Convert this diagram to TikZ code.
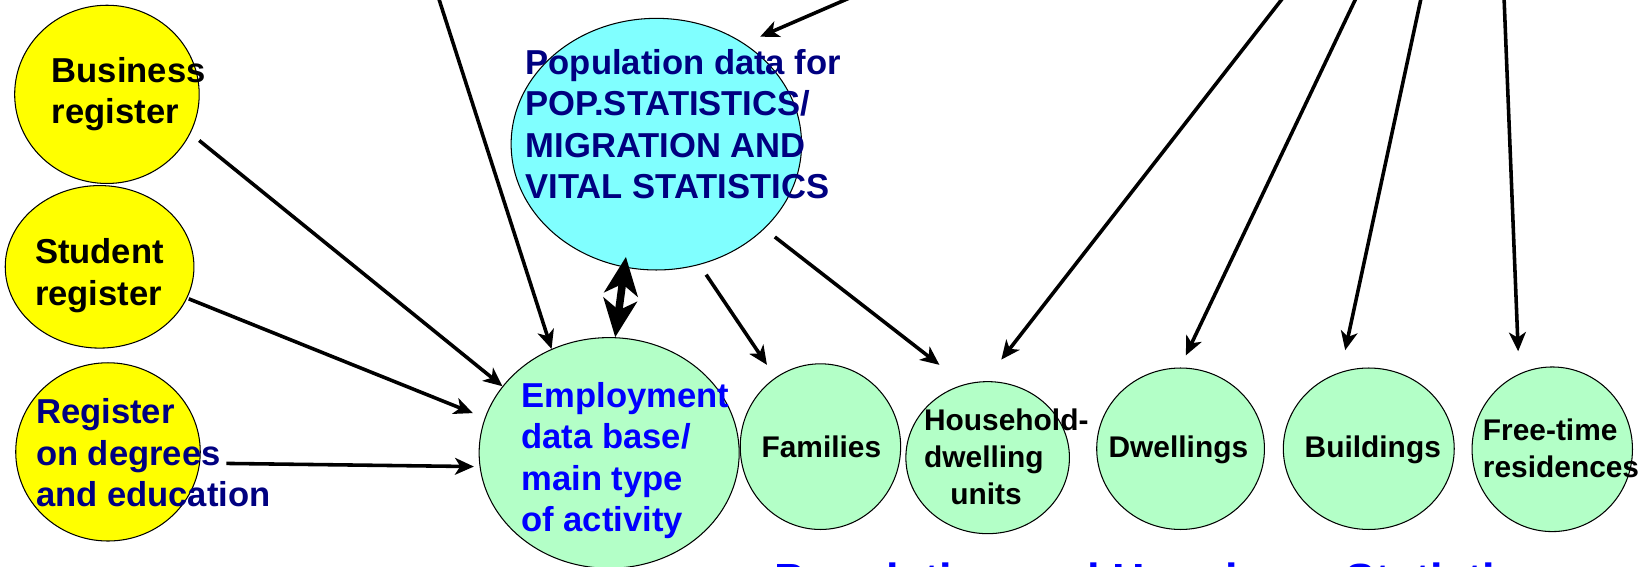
\documentclass[tikz,border=0pt]{standalone}
\usepackage{fontspec}
\setmainfont{Liberation Sans}
\usetikzlibrary{shapes.geometric,arrows.meta}
\definecolor{regyellow}{RGB}{255,255,0}
\definecolor{popcyan}{RGB}{128,255,255}
\definecolor{unitgreen}{RGB}{179,255,199}
\definecolor{navytxt}{RGB}{0,0,128}
\definecolor{bluetxt}{RGB}{0,0,255}
\begin{document}
\begin{tikzpicture}[x=0.5pt,y=-0.5pt,
  blob/.style={ellipse, draw=black, line width=0.5pt, inner sep=0pt},
  bigtxt/.style={anchor=north west, inner sep=0pt, align=left, font=\fontsize{16.5}{19.75}\selectfont\bfseries},
  smalltxt/.style={anchor=north west, inner sep=0pt, align=left, font=\fontsize{14.25}{17.6}\selectfont\bfseries},
  link/.style={line width=1.7pt, -{Stealth[length=9pt,width=8pt,inset=2.5pt]}},
  dbl/.style={line width=3.6pt, {Stealth[length=18pt,width=16pt,inset=5pt]}-{Stealth[length=18pt,width=16pt,inset=5pt]}},
]
\useasboundingbox (0,0) rectangle (1568,540);
\clip (0,0) rectangle (1568,540);

% ellipses
\node[blob, fill=regyellow, minimum width=88pt, minimum height=85pt] (biz) at (102,90) {};
\node[blob, fill=regyellow, minimum width=90pt, minimum height=77.5pt] (stu) at (95,254.5) {};
\node[blob, fill=regyellow, minimum width=88pt, minimum height=85pt] (reg) at (103,431) {};
\node[blob, fill=popcyan, minimum width=138.5pt, minimum height=120pt] (pop) at (626,137.5) {};
\node[blob, fill=unitgreen, minimum width=124pt, minimum height=110pt] (emp) at (581,432) {};
\node[blob, fill=unitgreen, minimum width=76.5pt, minimum height=79pt] (fam) at (782.5,426) {};
\node[blob, fill=unitgreen, minimum width=78pt, minimum height=72.5pt] (hh) at (942,436.5) {};
\node[blob, fill=unitgreen, minimum width=80pt, minimum height=77pt] (dw) at (1126,428) {};
\node[blob, fill=unitgreen, minimum width=81.5pt, minimum height=77pt] (bu) at (1305.5,428) {};
\node[blob, fill=unitgreen, minimum width=76.5pt, minimum height=78.5pt] (ft) at (1480.5,428.5) {};

% free ends of connectors
\coordinate (a1s) at (412.5,-20);
\coordinate (a2s) at (852,-20);
\coordinate (a2e) at (725,35);
\coordinate (a3s) at (190,134);
\coordinate (a4s) at (180,285);
\coordinate (a4e) at (451,394);
\coordinate (a5s) at (216,442);
\coordinate (a5e) at (452,445);
\coordinate (a6e) at (597,245);
\coordinate (a7s) at (673.5,262);
\coordinate (a7e) at (731.5,348);
\coordinate (a8s) at (739,226);
\coordinate (a8e) at (896,348);
\coordinate (a9s) at (1237.6,-20);
\coordinate (a9e) at (955,343);
\coordinate (a10s) at (1302,-20);
\coordinate (a10e) at (1131,339);
\coordinate (a11s) at (1359.3,-20);
\coordinate (a11e) at (1283,334);
\coordinate (a12s) at (1433.8,-20);
\coordinate (a12e) at (1448,335);

% connectors
\draw[link] (a1s) -- (emp.119);
\draw[link] (a2s) -- (a2e);
\draw[link] (a3s) -- (emp.148);
\draw[link] (a4s) -- (a4e);
\draw[link] (a5s) -- (a5e);
\draw[dbl] (emp.87) -- (a6e);
\draw[link] (a7s) -- (a7e);
\draw[link] (a8s) -- (a8e);
\draw[link] (a9s) -- (a9e);
\draw[link] (a10s) -- (a10e);
\draw[link] (a11s) -- (a11e);
\draw[link] (a12s) -- (a12e);

% texts
\node[bigtxt] (bizT) at (49,50.35) {\strut Business\\register};
\node[bigtxt] (stuT) at (33,223.35) {\strut Student\\register};
\node[bigtxt, text=navytxt] (regT) at (34,376) {\strut Register\\on degrees\\and education};
\node[bigtxt, text=navytxt] (popT) at (501,42.95) {\strut Population data for\\POP.STATISTICS/\\MIGRATION AND\\VITAL STATISTICS};
\node[bigtxt, text=bluetxt] (empT) at (497,360.35) {\strut Employment\\data base/\\main type\\of activity};
\node[smalltxt] (famT) at (726,411.36) {\strut Families};
\node[smalltxt] (hhT) at (881,385.36) {\strut Household-\\dwelling\\\hspace*{12.5pt}units};
\node[smalltxt] (dwT) at (1057,411.36) {\strut Dwellings};
\node[smalltxt] (buT) at (1244,411.36) {\strut Buildings};
\node[smalltxt] (ftT) at (1414,394.96) {\strut Free-time\\residences};
\node[anchor=base west, inner sep=0pt, text=bluetxt, font=\fontsize{21.5}{25}\selectfont\bfseries] (title) at (738,567.5) {Population and Housing\hspace{19pt} Statistics};
\end{tikzpicture}
\end{document}
